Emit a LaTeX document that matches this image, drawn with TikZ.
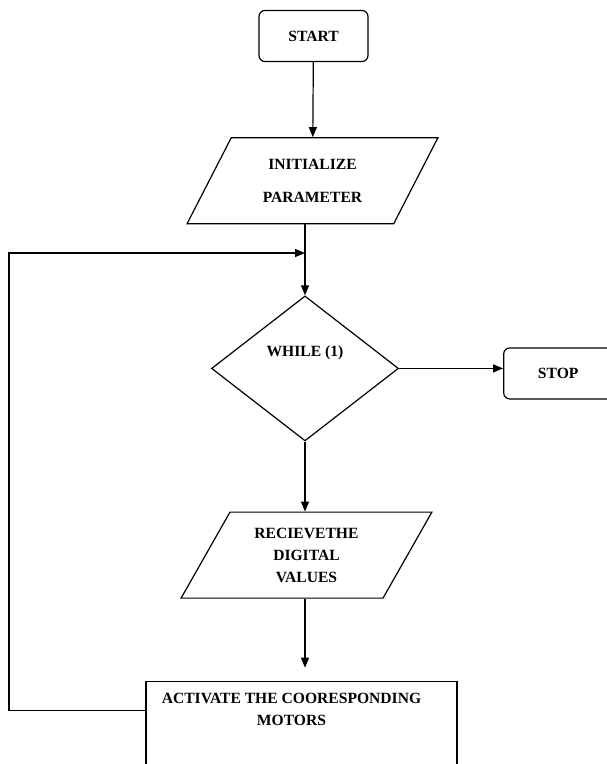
\documentclass[tikz,border=0pt]{standalone}
\usepackage{fontspec}
\setmainfont{Liberation Serif}
\usetikzlibrary{positioning}
\usetikzlibrary{shapes.geometric}
\usetikzlibrary{arrows.meta}

\tikzset{
  terminal/.style={draw, rounded corners=6pt, minimum width=109pt, minimum height=51pt},
  io/.style={draw, trapezium, trapezium left angle=60, trapezium right angle=120,
    trapezium stretches=true, minimum width=251pt, minimum height=86pt, align=center},
  decision/.style={draw, diamond, minimum width=187pt, minimum height=145pt, text depth=34pt},
  process/.style={draw, rectangle, minimum width=311pt, align=center,
    text height=40pt, text depth=58pt, inner sep=4pt}
}

\begin{document}
\begin{tikzpicture}[->,>={Triangle[length=10pt,width=8pt]},x=1pt,y=-1pt,line width=1.2pt,
  font=\bfseries\fontsize{15.6}{22}\selectfont]
\clip (0,0) rectangle (607,764);
\node[terminal] (start) at (313.5,36)                       {START};
\node[io]       (init)  [below=75pt of start, xshift=-1pt]  {INITIALIZE\\[11pt]PARAMETER};
\node[decision] (loop)  [below=71pt of init, xshift=-7.5pt] {WHILE (1)};
\node[terminal] (stop)  [right=104pt of loop, yshift=-5pt]  {STOP};
\node[io]       (recv)  [below=70pt of loop, xshift=1.5pt]  {RECIEVETHE\\DIGITAL\\VALUES};
\node[process]  (act)   [below=82pt of recv, xshift=-5pt]
  {ACTIVATE THE COORESPONDING\hspace*{20pt}\\MOTORS\hspace*{20pt}};
\coordinate (corner) at (9,253);

\draw (start) -- (init);
\draw (init.south -| loop.north) -- (loop.north);
\draw (loop.east) -- (loop.east -| stop.west);
\draw (loop.south) -- (loop.south |- recv.north);
\draw (recv.south -| loop.south) -- ([yshift=13pt]act.north -| loop.south);
\draw ([yshift=-30pt]act.north west) -| (corner) -- (loop.north |- corner);
\end{tikzpicture}
\end{document}
